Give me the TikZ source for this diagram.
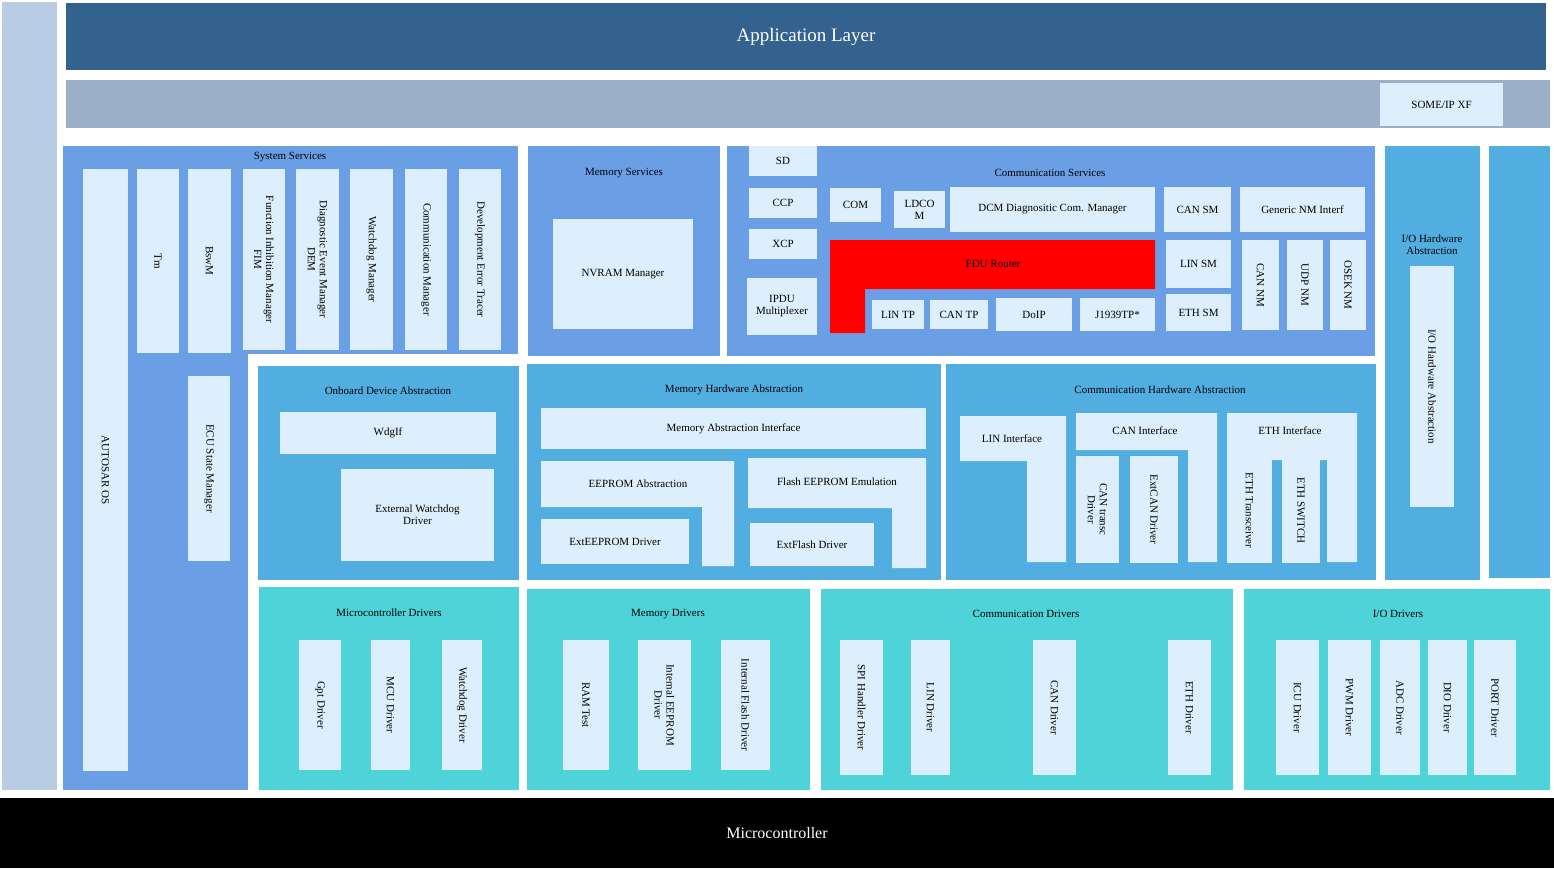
\documentclass[tikz,border=0pt]{standalone}
\usepackage{fontspec}
\setmainfont{Liberation Serif}
\definecolor{appblue}{HTML}{34628F}
\definecolor{rtegray}{HTML}{9BB0C8}
\definecolor{bootblue}{HTML}{B8CCE4}
\definecolor{svcblue}{HTML}{6A9FE6}
\definecolor{hwblue}{HTML}{52AEE0}
\definecolor{drvcyan}{HTML}{4DD3D8}
\definecolor{pale}{HTML}{DDEEFC}
\tikzset{
  lbl/.style={font=\fontsize{11}{12}\selectfont, align=center, inner sep=1pt},
  vlbl/.style={lbl, rotate=-90},
  inner/.style={fill=pale},
}
\begin{document}
\begin{tikzpicture}[x=1pt,y=-1pt]
\useasboundingbox[fill=white] (0,0) rectangle (1554,868);

% layers
\fill[bootblue] (2,2) rectangle (57,790) node[midway,rotate=-90,font=\fontsize{20}{22}\selectfont] (boot) {Bootloader};
\fill[appblue] (66,3) rectangle (1546,70) node[midway,text=white,font=\fontsize{19}{21}\selectfont] (app) {Application Layer};
\fill[rtegray] (66,80) rectangle (1550,128) node[midway,font=\fontsize{16}{18}\selectfont] (rte) {AUTOSAR Runtime Environment (RTE)};
\fill[inner] (1380,83) rectangle (1503,126) node[midway,lbl] (someip) {SOME/IP XF};
\fill[black] (0,798) rectangle (1554,868) node[midway,text=white,font=\fontsize{16}{18}\selectfont] (mcu) {Microcontroller};

% system services
\fill[svcblue] (63,146) rectangle (518,354);
\fill[svcblue] (63,354) rectangle (248,790);
\node[lbl] (ssT) at (290,157) {System Services};
\fill[inner] (83,169) rectangle (128,771) node[midway,vlbl] (os) {AUTOSAR OS};
\fill[inner] (137,169) rectangle (179,353) node[midway,vlbl] (tm) {Tm};
\fill[inner] (188,169) rectangle (231,353) node[midway,vlbl] (bswm) {BswM};
\fill[inner] (188,376) rectangle (230,561) node[midway,vlbl] (ecum) {ECU State Manager};
\fill[inner] (243,169) rectangle (285,350) node[midway,vlbl] (fim) {Function Inhibition Manager\\FIM};
\fill[inner] (296,169) rectangle (339,350) node[midway,vlbl] (dem) {Diagnostic Event Manager\\DEM};
\fill[inner] (350,169) rectangle (393,350) node[midway,vlbl] (wdgm) {Watchdog Manager};
\fill[inner] (405,169) rectangle (447,350) node[midway,vlbl] (comm) {Communication Manager};
\fill[inner] (459,169) rectangle (501,350) node[midway,vlbl] (det) {Development Error Tracer};

% memory services
\fill[svcblue] (528,146) rectangle (720,356);
\node[lbl] (msT) at (624,173) {Memory Services};
\fill[inner] (553,219) rectangle (693,329) node[midway,lbl] (nvm) {NVRAM Manager};

% communication services
\fill[svcblue] (727,146) rectangle (1375,356);
\node[lbl] (csT) at (1050,173) {Communication Services};
\fill[inner] (749,146) rectangle (817,176) node[midway,lbl] (sd) {SD};
\fill[inner] (749,188) rectangle (817,218) node[midway,lbl] (ccp) {CCP};
\fill[inner] (749,229) rectangle (817,259) node[midway,lbl] (xcp) {XCP};
\fill[inner] (747,278) rectangle (817,335) node[midway,lbl] (ipdum) {IPDU\\Multiplexer};
\fill[inner] (830,188) rectangle (881,222) node[midway,lbl] (com) {COM};
\fill[inner] (894,191) rectangle (945,228) node[midway,lbl] (ldcom) {LDCO\\M};
\fill[inner] (950,187) rectangle (1155,232) node[midway,lbl] (dcm) {DCM Diagnositic Com. Manager};
\fill[inner] (1164,187) rectangle (1231,232) node[midway,lbl] (cansm) {CAN SM};
\fill[inner] (1240,187) rectangle (1365,232) node[midway,lbl] (nmif) {Generic NM Interf};
\fill[red] (830,240) -- (1155,240) -- (1155,289) -- (865,289) -- (865,333) -- (830,333) -- cycle;
\node[lbl] (pdur) at (993,264) {PDU Router};
\fill[inner] (872,300) rectangle (924,329) node[midway,lbl] (lintp) {LIN TP};
\fill[inner] (930,300) rectangle (988,329) node[midway,lbl] (cantp) {CAN TP};
\fill[inner] (996,298) rectangle (1072,331) node[midway,lbl] (doip) {DoIP};
\fill[inner] (1080,298) rectangle (1155,331) node[midway,lbl] (j1939) {J1939TP*};
\fill[inner] (1166,240) rectangle (1231,288) node[midway,lbl] (linsm) {LIN SM};
\fill[inner] (1166,294) rectangle (1231,331) node[midway,lbl] (ethsm) {ETH SM};
\fill[inner] (1242,240) rectangle (1279,330) node[midway,vlbl] (cannm) {CAN NM};
\fill[inner] (1287,240) rectangle (1323,330) node[midway,vlbl] (udpnm) {UDP NM};
\fill[inner] (1330,240) rectangle (1366,330) node[midway,vlbl] (oseknm) {OSEK NM};

% I/O hardware abstraction, complex drivers
\fill[hwblue] (1385,146) rectangle (1480,580);
\node[lbl] (ioT) at (1432,245) {I/O Hardware\\Abstraction};
\fill[inner] (1410,266) rectangle (1454,507) node[midway,vlbl] (ioha) {I/O Hardware Abstraction};
\fill[hwblue] (1489,146) rectangle (1550,578) node[midway,vlbl] (cdd) {Complex\\Drivers};

% onboard device abstraction
\fill[hwblue] (258,366) rectangle (519,580);
\node[lbl] (odT) at (388,391) {Onboard Device Abstraction};
\fill[inner] (280,412) rectangle (496,454) node[midway,lbl] (wdgif) {WdgIf};
\fill[inner] (341,469) rectangle (494,561) node[midway,lbl] (extwdg) {External Watchdog\\Driver};

% memory hardware abstraction
\fill[hwblue] (527,364) rectangle (941,580);
\node[lbl] (mhT) at (734,390) {Memory Hardware Abstraction};
\fill[inner] (541,408) rectangle (926,449) node[midway,lbl] (memif) {Memory Abstraction Interface};
\fill[inner] (541,461) -- (734,461) -- (734,566) -- (702,566) -- (702,507) -- (541,507) -- cycle;
\node[lbl] (ea) at (638,484) {EEPROM Abstraction};
\fill[inner] (541,519) rectangle (689,564) node[midway,lbl] (exteep) {ExtEEPROM Driver};
\fill[inner] (748,458) -- (926,458) -- (926,568) -- (892,568) -- (892,508) -- (748,508) -- cycle;
\node[lbl] (fee) at (837,482) {Flash EEPROM Emulation};
\fill[inner] (750,523) rectangle (874,566) node[midway,lbl] (extfls) {ExtFlash Driver};

% communication hardware abstraction
\fill[hwblue] (946,364) rectangle (1376,580);
\node[lbl] (chT) at (1160,390) {Communication Hardware Abstraction};
\fill[inner] (960,416) -- (1066,416) -- (1066,562) -- (1027,562) -- (1027,461) -- (960,461) -- cycle;
\node[lbl] (linif) at (1012,439) {LIN Interface};
\fill[inner] (1076,413) -- (1217,413) -- (1217,562) -- (1188,562) -- (1188,450) -- (1076,450) -- cycle;
\node[lbl] (canif) at (1145,431) {CAN Interface};
\fill[inner] (1076,456) rectangle (1119,563) node[midway,vlbl] (cantrcv) {CAN transc\\Driver};
\fill[inner] (1130,456) rectangle (1178,563) node[midway,vlbl] (extcan) {ExtCAN Driver};
\fill[inner] (1227,413) -- (1357,413) -- (1357,562) -- (1327,562) -- (1327,460) -- (1227,460) -- cycle;
\node[lbl] (ethif) at (1290,431) {ETH Interface};
\fill[inner] (1227,458) rectangle (1272,563) node[midway,vlbl] (ethtrcv) {ETH Transceiver};
\fill[inner] (1282,458) rectangle (1320,563) node[midway,vlbl] (ethswt) {ETH SWITCH};

% microcontroller drivers
\fill[drvcyan] (259,587) rectangle (519,790);
\node[lbl] (mdT) at (389,613) {Microcontroller Drivers};
\fill[inner] (299,640) rectangle (341,770) node[midway,vlbl] (gpt) {Gpt Driver};
\fill[inner] (371,640) rectangle (410,770) node[midway,vlbl] (mcudrv) {MCU Driver};
\fill[inner] (442,640) rectangle (482,770) node[midway,vlbl] (wdg) {Watchdog Driver};

% memory drivers
\fill[drvcyan] (527,589) rectangle (810,790);
\node[lbl] (memdT) at (668,614) {Memory Drivers};
\fill[inner] (563,640) rectangle (609,770) node[midway,vlbl] (ramtst) {RAM Test};
\fill[inner] (638,640) rectangle (691,770) node[midway,vlbl] (inteep) {Internal EEPROM\\Driver};
\fill[inner] (721,640) rectangle (770,770) node[midway,vlbl] (intfls) {Internal Flash Driver};

% communication drivers
\fill[drvcyan] (821,589) rectangle (1233,790);
\node[lbl] (cdT) at (1026,614) {Communication Drivers};
\fill[inner] (840,640) rectangle (883,775) node[midway,vlbl] (spi) {SPI Handler Driver};
\fill[inner] (911,640) rectangle (950,775) node[midway,vlbl] (lin) {LIN Driver};
\fill[inner] (1033,640) rectangle (1076,775) node[midway,vlbl] (can) {CAN Driver};
\fill[inner] (1168,640) rectangle (1211,775) node[midway,vlbl] (eth) {ETH Driver};

% I/O drivers
\fill[drvcyan] (1244,589) rectangle (1550,790);
\node[lbl] (iodT) at (1398,614) {I/O Drivers};
\fill[inner] (1276,640) rectangle (1319,775) node[midway,vlbl] (icu) {ICU Driver};
\fill[inner] (1328,640) rectangle (1371,775) node[midway,vlbl] (pwm) {PWM Driver};
\fill[inner] (1380,640) rectangle (1420,775) node[midway,vlbl] (adc) {ADC Driver};
\fill[inner] (1428,640) rectangle (1467,775) node[midway,vlbl] (dio) {DIO Driver};
\fill[inner] (1474,640) rectangle (1516,775) node[midway,vlbl] (port) {PORT Driver};
\end{tikzpicture}
\end{document}
